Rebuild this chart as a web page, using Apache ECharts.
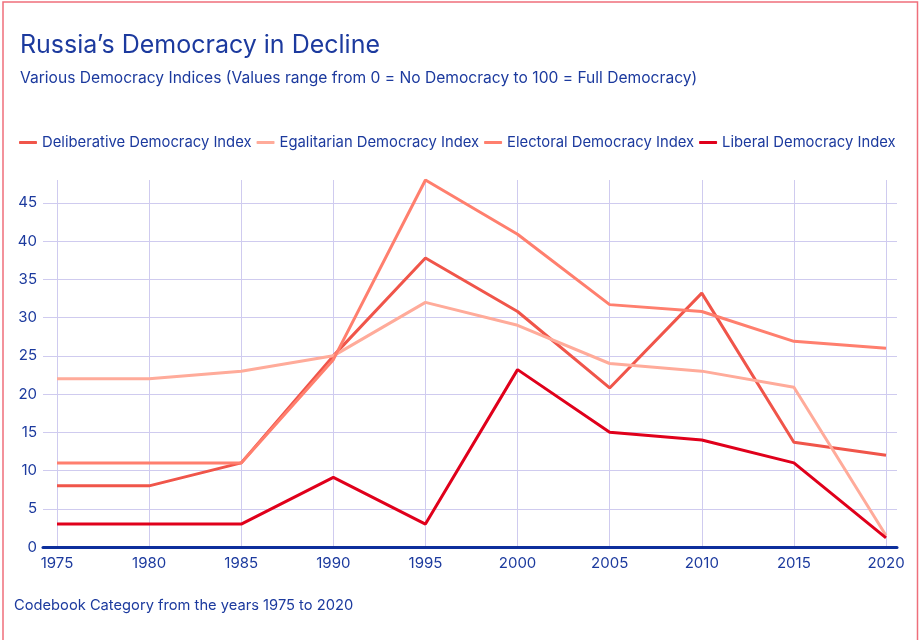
<!DOCTYPE html>
<html>
<head>
<meta charset="utf-8">
<script src="https://cdn.jsdelivr.net/npm/echarts@6/dist/echarts.min.js"></script>
<style>
  html, body { margin: 0; padding: 0; background: #fff; }
  #chart { width: 920px; height: 640px; }
</style>
</head>
<body>
<div id="chart"></div>
<script>
// Years on the category axis
const years = ['1975', '1980', '1985', '1990', '1995', '2000', '2005', '2010', '2015', '2020'];

// Index values (0 = no democracy, 100 = full democracy)
const deliberative = [8, 8, 11, 25, 37.8, 30.8, 20.8, 33.2, 13.7, 12];
const egalitarian  = [22, 22, 23, 25, 32, 29, 24, 23, 20.9, 1.5];
const electoral    = [11, 11, 11, 24.5, 48, 40.9, 31.7, 30.8, 26.9, 26];
const liberal      = [3, 3, 3, 9.1, 3, 23.2, 15, 14, 11, 1.2];

const seriesNames = [
  'Deliberative Democracy Index',
  'Egalitarian Democracy Index',
  'Electoral Democracy Index',
  'Liberal Democracy Index'
];
const seriesColors = ['#f0554a', '#ffab9a', '#ff7f6e', '#e0001b'];
const seriesData = [deliberative, egalitarian, electoral, liberal];

const FONT = 'Inter';
const INK = '#1c3a9e';
const GRID_LINE = '#cfcbef';

const chart = echarts.init(document.getElementById('chart'), null, { renderer: 'canvas' });

const yMax = 48;
const gridTop = 180;
const gridBottom = 93;

chart.setOption({
  animation: false,
  backgroundColor: '#fff',
  textStyle: { fontFamily: FONT, color: INK },
  title: [
    {
      text: 'Russia\u2019s Democracy in Decline',
      left: 15, top: 28,
      textStyle: { fontFamily: FONT, fontSize: 25, fontWeight: 'normal', color: INK }
    },
    {
      text: 'Various Democracy Indices (Values range from 0 = No Democracy to 100 = Full Democracy)',
      left: 15, top: 65,
      textStyle: { fontFamily: FONT, fontSize: 15.6, fontWeight: 'normal', color: INK }
    }
  ],
  legend: {
    left: 14, top: 130, width: 905,
    itemWidth: 18, itemHeight: 3, itemGap: 5,
    icon: 'roundRect',
    textStyle: { fontFamily: FONT, fontSize: 14.8, color: INK },
    data: seriesNames
  },
  grid: [
    // outer grid: horizontal rules, y labels and the baseline
    { left: 43, right: 23, top: gridTop, bottom: gridBottom },
    // inner grid: the year columns and the data lines
    { left: 57, right: 34, top: gridTop, bottom: gridBottom }
  ],
  xAxis: [
    {
      gridIndex: 0, type: 'value', min: 0, max: 1,
      axisLine: { show: true, lineStyle: { color: '#0d2f9c', width: 3 } },
      axisTick: { show: false }, axisLabel: { show: false }, splitLine: { show: false }
    },
    {
      gridIndex: 1, type: 'category', data: years, boundaryGap: false,
      axisLine: { show: false }, axisTick: { show: false },
      axisLabel: { fontFamily: FONT, fontSize: 15, color: INK, margin: 9 },
      splitLine: { show: true, lineStyle: { color: GRID_LINE, width: 1 } }
    }
  ],
  yAxis: [
    {
      gridIndex: 0, type: 'value', min: 0, max: yMax, interval: 5,
      axisLine: { show: false }, axisTick: { show: false },
      axisLabel: { fontFamily: FONT, fontSize: 15, color: INK, margin: 6, showMaxLabel: false },
      splitLine: { show: true, showMaxLine: false, lineStyle: { color: GRID_LINE, width: 1 } }
    },
    {
      gridIndex: 1, type: 'value', min: 0, max: yMax, show: false
    }
  ],
  series: seriesData.map((d, i) => ({
    name: seriesNames[i],
    type: 'line',
    xAxisIndex: 1, yAxisIndex: 1,
    data: d,
    symbol: 'none',
    color: seriesColors[i],
    lineStyle: { width: 3, color: seriesColors[i] },
    z: 3 + i
  })),
  graphic: [
    {
      type: 'rect', silent: true, z: 100,
      shape: { x: 3, y: 2, width: 914.5, height: 660 },
      style: { fill: 'none', stroke: '#ef6f7b', lineWidth: 1.5 }
    },
    {
      type: 'text', left: 14, top: 598, silent: true,
      style: {
        text: 'Codebook Category from the years 1975 to 2020',
        font: '14.7px ' + FONT, fill: INK
      }
    }
  ]
});
</script>
</body>
</html>
